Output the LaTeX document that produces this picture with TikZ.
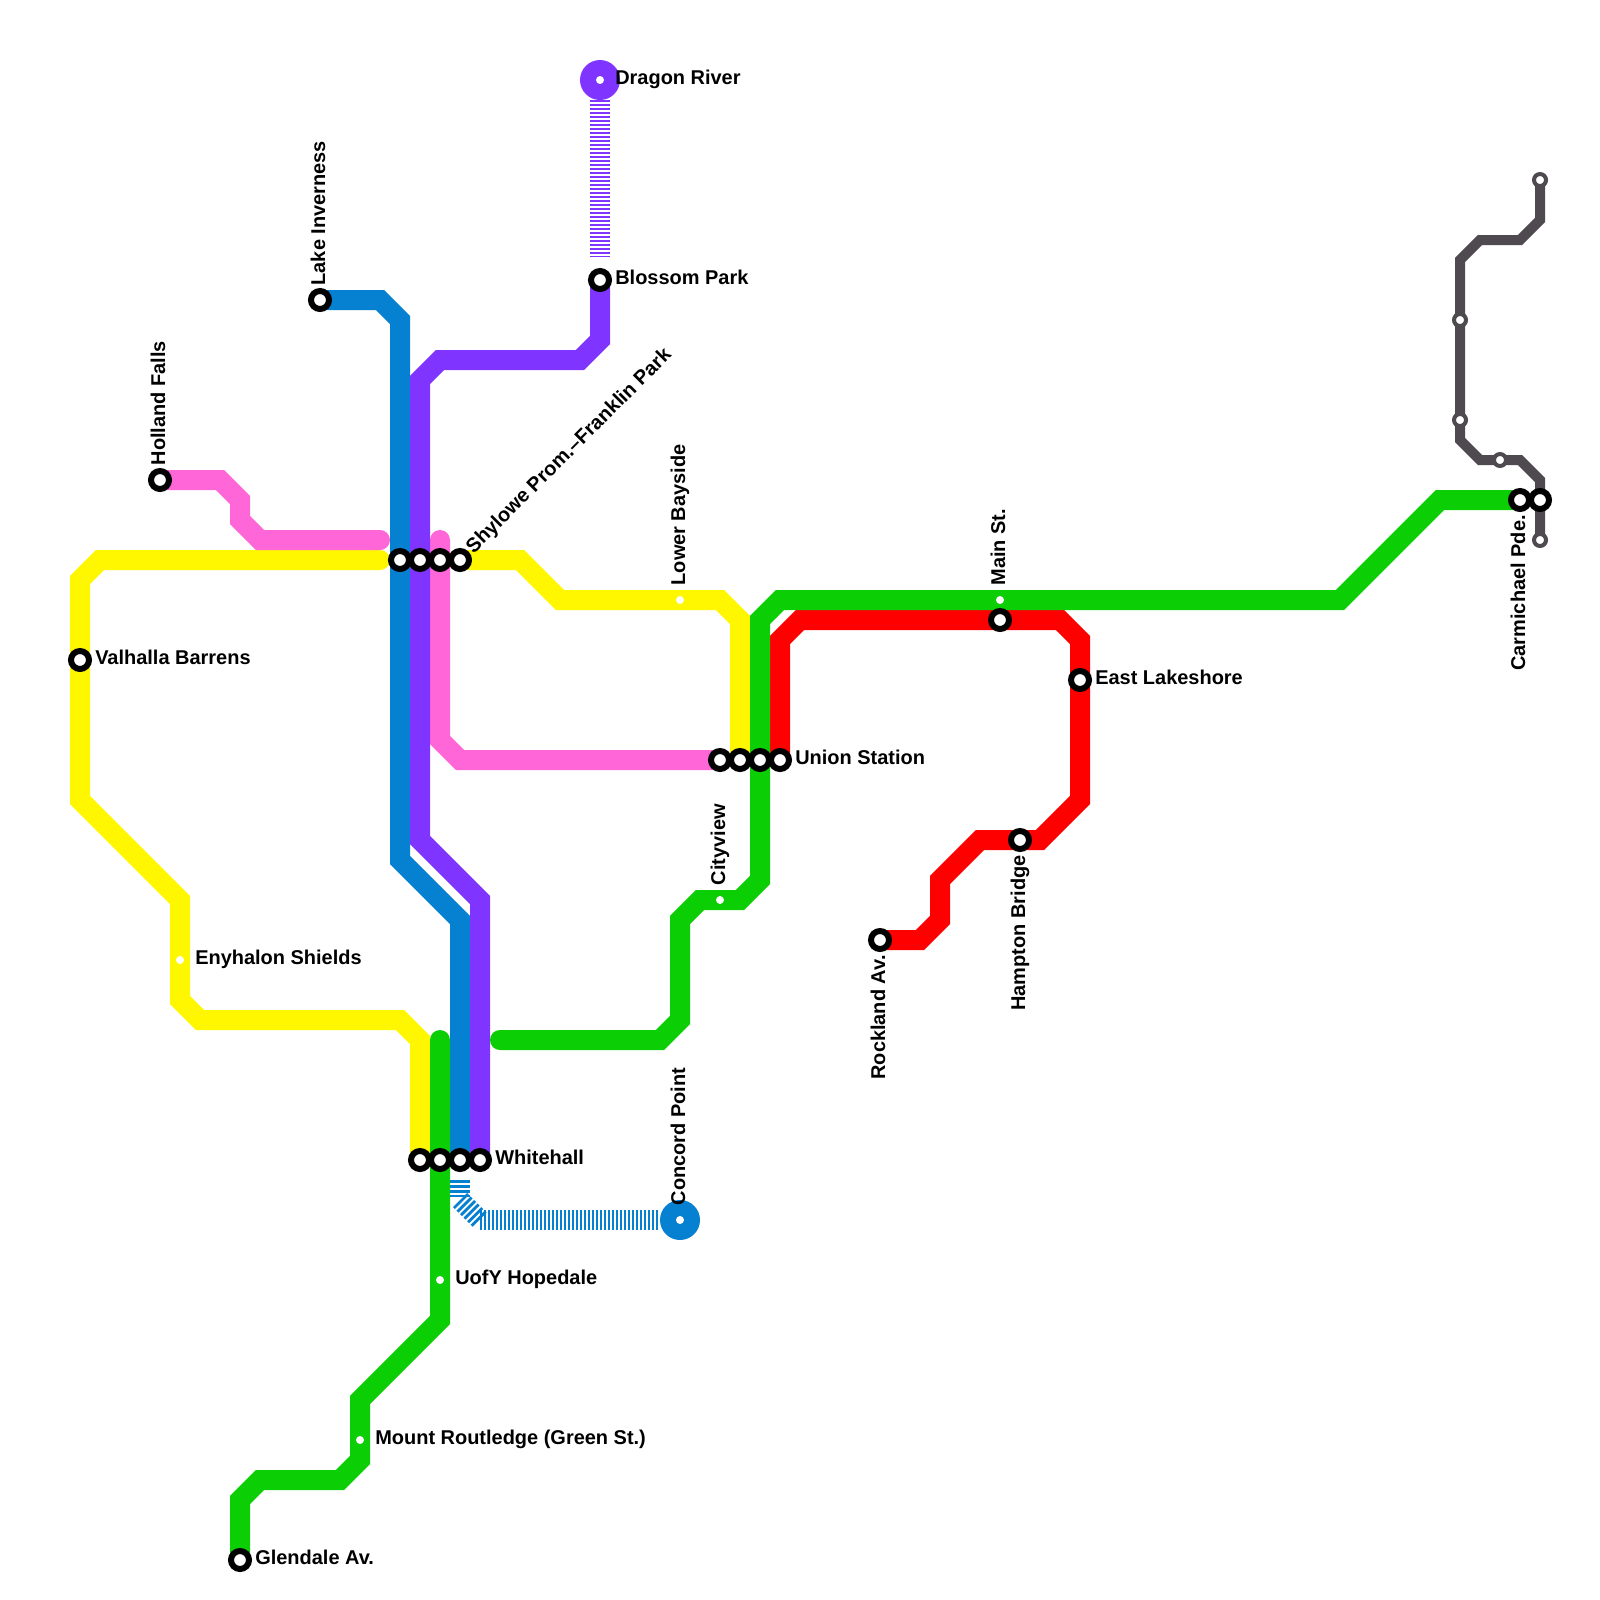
\documentclass[tikz,border=0pt]{standalone}
\usepackage{fontspec}
\setmainfont{Liberation Sans}
\usepackage{xcolor}
\definecolor{lineyellow}{HTML}{FFF700}
\definecolor{linegreen}{HTML}{0BCE04}
\definecolor{lineblue}{HTML}{0680D0}
\definecolor{linepurple}{HTML}{7F35FF}
\definecolor{linepink}{HTML}{FF66D8}
\definecolor{linered}{HTML}{FF0000}
\definecolor{linegray}{HTML}{4F4A50}
\tikzset{
  mline/.style={line width=0.5cm,line cap=round,miter limit=10},
  thinline/.style={line width=0.25cm,line cap=round,draw=linegray},
  stripes/.style={line width=0.5cm,dash pattern=on 0.06cm off 0.04cm},
  widestripes/.style={line width=0.5cm,dash pattern=on 0.07cm off 0.055cm},
  stn/.style={circle,draw=black,fill=white,line width=0.15cm,minimum size=0.45cm,inner sep=0pt},
  smallstn/.style={circle,fill=white,minimum size=0.2cm,inner sep=0pt},
  grayst/.style={circle,draw=linegray,fill=white,line width=0.1cm,minimum size=0.3cm,inner sep=0pt},
  terminus/.style={circle,minimum size=1cm,inner sep=0pt},
  lbl/.style={font=\fontsize{14.2}{17}\selectfont\bfseries,inner sep=0pt,anchor=base west},
  lblup/.style={lbl,rotate=90},
  lbldown/.style={lbl,rotate=90,anchor=base east}
}
\begin{document}
\begin{tikzpicture}[x=0.5cm,y=-0.5cm]
  \useasboundingbox (0,0) rectangle (80,80);
  % stations
  \coordinate (holland) at (8,24);
  \coordinate (inverness) at (16,15);
  \coordinate (valhalla) at (4,33);
  \coordinate (enyhalon) at (9,48);
  \coordinate (shyblue) at (20,28);
  \coordinate (shypurple) at (21,28);
  \coordinate (shypink) at (22,28);
  \coordinate (shyyellow) at (23,28);
  \coordinate (wallyellow) at (21,58);
  \coordinate (wallgreen) at (22,58);
  \coordinate (wallblue) at (23,58);
  \coordinate (wallpurple) at (24,58);
  \coordinate (concord) at (34,61);
  \coordinate (dragon) at (30,4);
  \coordinate (blossom) at (30,14);
  \coordinate (bayside) at (34,30);
  \coordinate (unionpink) at (36,38);
  \coordinate (unionyellow) at (37,38);
  \coordinate (uniongreen) at (38,38);
  \coordinate (unionred) at (39,38);
  \coordinate (cityview) at (36,45);
  \coordinate (hopedale) at (22,64);
  \coordinate (routledge) at (18,72);
  \coordinate (glendale) at (12,78);
  \coordinate (rockland) at (44,47);
  \coordinate (hampton) at (51,42);
  \coordinate (lakeshore) at (54,34);
  \coordinate (mainred) at (50,31);
  \coordinate (maingreen) at (50,30);
  \coordinate (carmgreen) at (76,25);
  \coordinate (carmgray) at (77,25);
  \coordinate (yellowend) at (19,28);
  \coordinate (pinkend) at (19,27);
  \coordinate (pinktop) at (22,27);
  \coordinate (greenend) at (25,52);
  \coordinate (greentop) at (22,52);
  \coordinate (graytop) at (77,9);
  \coordinate (graybot) at (77,27);
  \coordinate (grayone) at (73,16);
  \coordinate (graytwo) at (73,21);
  \coordinate (graythree) at (75,23);

  % lines
  \draw[mline,lineyellow] (yellowend) -- (5,28) -- (4,29) -- (4,40) -- (9,45) -- (9,50) -- (10,51) -- (20,51) -- (21,52) -- (wallyellow);
  \draw[mline,lineyellow] (shyyellow) -- (26,28) -- (28,30) -- (36,30) -- (37,31) -- (unionyellow);
  \draw[mline,linepink] (holland) -- (11,24) -- (12,25) -- (12,26) -- (13,27) -- (pinkend);
  \draw[mline,linepink] (pinktop) -- (22,37) -- (23,38) -- (unionpink);
  \draw[mline,lineblue] (inverness) -- (19,15) -- (20,16) -- (20,43) -- (23,46) -- (wallblue);
  \draw[mline,linepurple] (blossom) -- (30,17) -- (29,18) -- (22,18) -- (21,19) -- (21,42) -- (24,45) -- (wallpurple);
  \draw[mline,linered] (rockland) -- (46,47) -- (47,46) -- (47,44) -- (49,42) -- (52,42) -- (54,40) -- (54,32) -- (53,31) -- (40,31) -- (39,32) -- (unionred);
  \draw[mline,linegreen] (carmgreen) -- (72,25) -- (67,30) -- (39,30) -- (38,31) -- (38,44) -- (37,45) -- (35,45) -- (34,46) -- (34,51) -- (33,52) -- (greenend);
  \draw[mline,linegreen] (greentop) -- (22,66) -- (18,70) -- (18,73) -- (17,74) -- (13,74) -- (12,75) -- (glendale);
  \draw[thinline] (graytop) -- (77,11) -- (76,12) -- (74,12) -- (73,13) -- (73,22) -- (74,23) -- (76,23) -- (77,24) -- (graybot);

  % striped lines
  \draw[stripes,linepurple] (30,5) -- (30,12.85);
  \draw[widestripes,lineblue] (23,59) -- (23,59.85);
  \draw[widestripes,lineblue] (23,60) -- (24,61);
  \draw[stripes,lineblue] (24,61) -- (32.9,61);

  % station markers
  \node[terminus,fill=linepurple] (dragonring) at (dragon) {};
  \node[terminus,fill=lineblue] (concordring) at (concord) {};
  \node[smallstn] (dragondot) at (dragon) {};
  \node[smallstn] (concorddot) at (concord) {};
  \foreach \s in {holland,inverness,valhalla,shyblue,shypurple,shypink,shyyellow,wallyellow,wallgreen,wallblue,wallpurple,blossom,unionpink,unionyellow,uniongreen,unionred,glendale,rockland,hampton,lakeshore,mainred,carmgreen,carmgray}
    \node[stn] (\s stn) at (\s) {};
  \foreach \s in {enyhalon,bayside,cityview,hopedale,routledge,maingreen}
    \node[smallstn] (\s stn) at (\s) {};
  \foreach \s in {graytop,graybot,grayone,graytwo,graythree}
    \node[grayst] (\s stn) at (\s) {};

  % labels
  \node[lbl] (dragonlbl) at ([shift={(0.75,0.2)}]dragon) {Dragon River};
  \node[lbl] (blossomlbl) at ([shift={(0.75,0.2)}]blossom) {Blossom Park};
  \node[lbl] (valhallalbl) at ([shift={(0.75,0.2)}]valhalla) {Valhalla Barrens};
  \node[lbl] (enyhalonlbl) at ([shift={(0.75,0.2)}]enyhalon) {Enyhalon Shields};
  \node[lbl] (wallpurplelbl) at ([shift={(0.75,0.2)}]wallpurple) {Whitehall};
  \node[lbl] (hopedalelbl) at ([shift={(0.75,0.2)}]hopedale) {UofY Hopedale};
  \node[lbl] (routledgelbl) at ([shift={(0.75,0.2)}]routledge) {Mount Routledge (Green St.)};
  \node[lbl] (glendalelbl) at ([shift={(0.75,0.2)}]glendale) {Glendale Av.};
  \node[lbl] (unionlbl) at ([shift={(0.75,0.2)}]unionred) {Union Station};
  \node[lbl] (lakeshorelbl) at ([shift={(0.75,0.2)}]lakeshore) {East Lakeshore};
  \node[lblup] (hollandlbl) at ([shift={(0.25,-0.72)}]holland) {Holland Falls};
  \node[lblup] (invernesslbl) at ([shift={(0.25,-0.72)}]inverness) {Lake Inverness};
  \node[lblup] (baysidelbl) at ([shift={(0.25,-0.72)}]bayside) {Lower Bayside};
  \node[lblup] (mainlbl) at ([shift={(0.25,-0.72)}]maingreen) {Main St.};
  \node[lblup] (cityviewlbl) at ([shift={(0.25,-0.72)}]cityview) {Cityview};
  \node[lblup] (concordlbl) at ([shift={(0.25,-0.72)}]concord) {Concord Point};
  \node[lbl,rotate=45] (shylbl) at ([shift={(0.68,-0.27)}]shyyellow) {Shylowe Prom.–Franklin Park};
  \node[lbldown] (rocklandlbl) at ([shift={(0.25,0.75)}]rockland) {Rockland Av.};
  \node[lbldown] (hamptonlbl) at ([shift={(0.25,0.75)}]hampton) {Hampton Bridge};
  \node[lbldown] (carmlbl) at ([shift={(0.25,0.75)}]carmgreen) {Carmichael Pde.};
\end{tikzpicture}
\end{document}
